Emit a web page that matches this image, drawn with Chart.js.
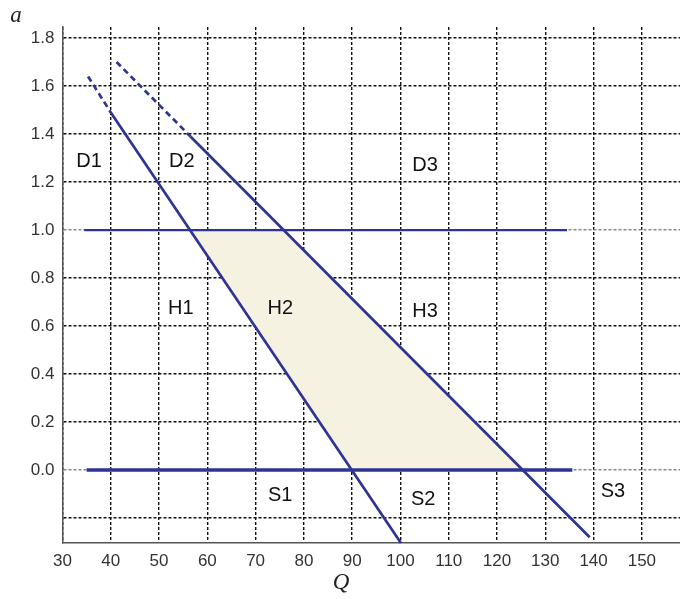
<!DOCTYPE html>
<html>
<head>
<meta charset="utf-8">
<script src="https://cdn.jsdelivr.net/npm/chart.js@4"></script>
<style>
  body { margin: 0; background: #fff; }
  canvas { display: block; }
</style>
</head>
<body>
<canvas id="regionChart" width="680" height="599"></canvas>
<script>
const qTicks = [30, 40, 50, 60, 70, 80, 90, 100, 110, 120, 130, 140, 150];
const aTicks = [-0.2, 0, 0.2, 0.4, 0.6, 0.8, 1.0, 1.2, 1.4, 1.6, 1.8];

// boundary lines (first segment of the two diagonals is dashed)
const steepQ = [35.3, 40, 100.1];
const steepA = [1.64, 1.49, -0.304];
const flatQ = [41.2, 56.5, 139.2];
const flatA = [1.70, 1.39, -0.28];
const upperQ = [34.5, 134.5];
const upperA = [1.0, 1.0];
const lowerQ = [35, 135.6];
const lowerA = [0.0, 0.0];

// shaded feasible region
const regionQ = [56.5, 75.8, 125.3, 90];
const regionA = [1.0, 1.0, 0.0, 0.0];

// region labels
const labelText = ['D1', 'D2', 'D3', 'H1', 'H2', 'H3', 'S1', 'S2', 'S3'];
const labelQ = [35.5, 54.7, 105.1, 54.5, 75.1, 105.1, 75.1, 104.7, 144.0];
const labelA = [1.284, 1.284, 1.271, 0.675, 0.675, 0.662, -0.108, -0.124, -0.091];

const lineColor = '#2f3393';
const pts = (xs, ys) => xs.map((x, i) => ({ x: x, y: ys[i] }));

const textPlugin = {
    id: 'regionText',
    afterDatasetsDraw(chart) {
        const c = chart.ctx;
        const xs = chart.scales.x, ys = chart.scales.y;
        c.save();
        c.fillStyle = '#111';
        c.font = '20px "Liberation Sans", Arial, sans-serif';
        c.textAlign = 'center';
        c.textBaseline = 'middle';
        labelText.forEach((t, i) => {
            c.fillText(t, xs.getPixelForValue(labelQ[i]), ys.getPixelForValue(labelA[i]));
        });
        c.font = 'italic 23px "Liberation Serif", "Times New Roman", serif';
        c.fillStyle = '#222';
        c.fillText('a', 16, 16);
        c.fillText('Q', 341, 583);
        c.restore();
    }
};

const ctx = document.getElementById('regionChart').getContext('2d');
new Chart(ctx, {
    type: 'scatter',
    data: {
        datasets: [
            {
                data: pts(steepQ, steepA),
                showLine: true,
                borderColor: lineColor,
                borderWidth: 2.7,
                pointRadius: 0,
                segment: { borderDash: s => s.p0DataIndex === 0 ? [6, 4] : [] },
                order: 1
            },
            {
                data: pts(flatQ, flatA),
                showLine: true,
                borderColor: lineColor,
                borderWidth: 2.7,
                pointRadius: 0,
                segment: { borderDash: s => s.p0DataIndex === 0 ? [6, 4] : [] },
                order: 1
            },
            {
                data: pts(upperQ, upperA),
                showLine: true,
                borderColor: lineColor,
                borderWidth: 2.2,
                pointRadius: 0,
                order: 1
            },
            {
                data: pts(lowerQ, lowerA),
                showLine: true,
                borderColor: lineColor,
                borderWidth: 3.5,
                pointRadius: 0,
                order: 1
            },
            {
                data: pts(regionQ, regionA),
                showLine: true,
                borderWidth: 0,
                borderColor: 'rgba(0,0,0,0)',
                backgroundColor: '#f6f2e2',
                fill: 'shape',
                pointRadius: 0,
                order: 2
            }
        ]
    },
    options: {
        responsive: false,
        animation: false,
        clip: false,
        layout: { padding: { top: 27, left: 0, right: 0, bottom: 0 } },
        plugins: {
            legend: { display: false },
            tooltip: { enabled: false }
        },
        scales: {
            x: {
                type: 'linear',
                min: 30,
                max: 157.9,
                afterBuildTicks: scale => { scale.ticks = qTicks.map(v => ({ value: v })); },
                afterFit: scale => { scale.height = 56; },
                ticks: {
                    padding: 8,
                    color: '#333',
                    font: { size: 17, family: '"Liberation Sans", Arial, sans-serif' },
                    maxRotation: 0,
                    autoSkip: false
                },
                grid: { color: '#111', lineWidth: 1.4, drawTicks: false },
                border: { color: '#555', width: 1.5, dash: [3, 2] }
            },
            y: {
                type: 'linear',
                min: -0.304,
                max: 1.846,
                afterBuildTicks: scale => { scale.ticks = aTicks.map(v => ({ value: v })); },
                afterFit: scale => { scale.width = 62.5; },
                ticks: {
                    padding: 8,
                    color: '#333',
                    font: { size: 17, family: '"Liberation Sans", Arial, sans-serif' },
                    callback: v => (v < -0.1 ? '' : v.toFixed(1))
                },
                grid: {
                    color: c => (c.tick && (c.tick.value === 0 || c.tick.value === 1) ? '#888' : '#111'),
                    lineWidth: 1.4,
                    drawTicks: false
                },
                border: { color: '#555', width: 1.5, dash: [3, 2] }
            }
        }
    },
    plugins: [textPlugin]
});
</script>
</body>
</html>
